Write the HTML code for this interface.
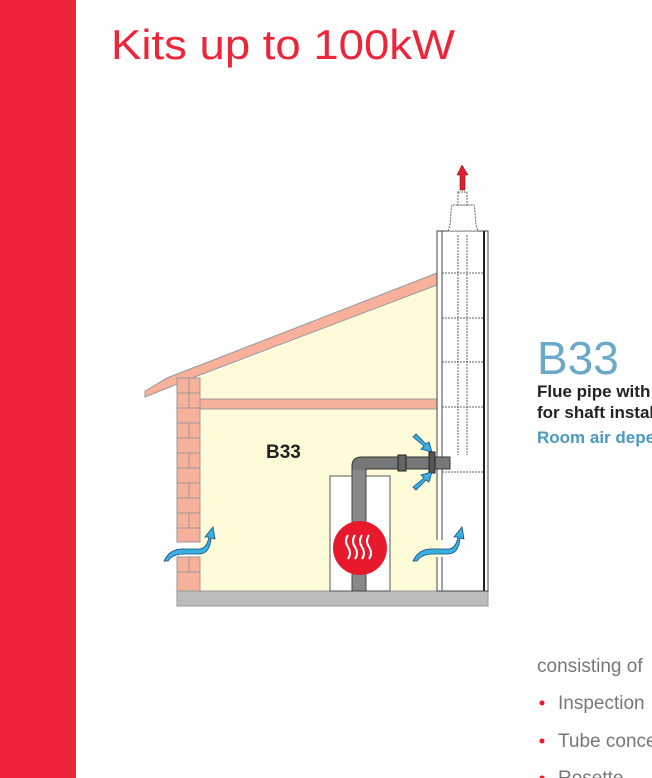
<!DOCTYPE html>
<html><head><meta charset="utf-8"><style>
html,body{margin:0;padding:0;background:#fff;}
svg{display:block;}
text{font-family:"Liberation Sans",sans-serif;}
</style></head><body>
<svg width="652" height="778" viewBox="0 0 652 778" xmlns="http://www.w3.org/2000/svg">
<rect x="0" y="0" width="76" height="778" fill="#ee2439"/>
<text x="111" y="59" font-size="42" fill="#ee2439" textLength="344" lengthAdjust="spacingAndGlyphs">Kits up to 100kW</text>

<!-- house interior -->
<polygon points="200,377 437,285 437,591 200,591" fill="#fefcd8"/>
<!-- roof -->
<polygon points="145,391 167,378 437,273 437,285 200,375 145,397" fill="#f7b09a" stroke="#999" stroke-width="1"/>
<!-- ceiling beam -->
<rect x="200" y="399" width="237" height="10" fill="#f7b09a" stroke="#999" stroke-width="1"/>
<!-- brick wall -->
<g stroke="#999" stroke-width="1" fill="#f7b09a">
<rect x="177" y="378" width="23" height="164"/>
<rect x="177" y="557" width="23" height="34"/>
</g>
<g stroke="#999" stroke-width="1">
<line x1="177" y1="393" x2="200" y2="393"/><line x1="177" y1="408" x2="200" y2="408"/>
<line x1="177" y1="423" x2="200" y2="423"/><line x1="177" y1="438" x2="200" y2="438"/>
<line x1="177" y1="453" x2="200" y2="453"/><line x1="177" y1="468" x2="200" y2="468"/>
<line x1="177" y1="483" x2="200" y2="483"/><line x1="177" y1="498" x2="200" y2="498"/>
<line x1="177" y1="513" x2="200" y2="513"/><line x1="177" y1="528" x2="200" y2="528"/>
<line x1="177" y1="572" x2="200" y2="572"/>
<line x1="189" y1="393" x2="189" y2="408"/><line x1="189" y1="423" x2="189" y2="438"/>
<line x1="189" y1="453" x2="189" y2="468"/><line x1="189" y1="483" x2="189" y2="498"/>
<line x1="189" y1="513" x2="189" y2="528"/><line x1="189" y1="557" x2="189" y2="572"/>
<line x1="189" y1="378" x2="189" y2="393"/>
</g>
<!-- floor -->
<rect x="177" y="591" width="311" height="15" fill="#bbb" stroke="#999"/>
<!-- chimney -->
<rect x="437" y="231" width="51" height="360" fill="#fff" stroke="#444" stroke-width="1"/>
<line x1="442" y1="231" x2="442" y2="540" stroke="#444"/>
<line x1="442" y1="557" x2="442" y2="591" stroke="#444"/>
<rect x="436" y="540" width="5" height="17" fill="#fefcd8"/>
<line x1="484" y1="231" x2="484" y2="591" stroke="#222" stroke-width="2"/>
<g stroke="#666" stroke-dasharray="2,1">
<line x1="442" y1="273" x2="484" y2="273"/><line x1="442" y1="318" x2="484" y2="318"/>
<line x1="442" y1="362" x2="484" y2="362"/><line x1="442" y1="407" x2="484" y2="407"/>
<line x1="442" y1="472" x2="484" y2="472"/>
<line x1="458" y1="235" x2="458" y2="455"/><line x1="467" y1="235" x2="467" y2="455"/>
</g>
<!-- cap -->
<path d="M448,231 C452,222 450,212 452,205 L474,205 C476,212 474,222 478,231 Z" fill="#fff" stroke="#666" stroke-dasharray="2,1"/>
<rect x="458" y="192" width="9" height="13" fill="#fff" stroke="#666" stroke-dasharray="2,1"/>
<polygon points="462,165 457,175 460,175 460,190 465,190 465,175 468,175" fill="#e02030" stroke="#600" stroke-width="0.5"/>
<!-- boiler -->
<rect x="330" y="476" width="60" height="115" fill="#fff" stroke="#555"/>
<rect x="352" y="468" width="14" height="123" fill="#888" stroke="#444"/>
<path d="M352,470 L352,466 Q352,457 362,457 L450,457 L450,469 L366,469 L366,470" fill="#777" stroke="#333"/>
<rect x="398" y="455" width="8" height="16" fill="#666" stroke="#222"/>
<rect x="429" y="452" width="6" height="21" fill="#555" stroke="#222"/>
<circle cx="360" cy="548" r="27" fill="#e8192c"/>
<g stroke="#fff" stroke-width="2" fill="none">
<path d="M348,535 q-4,6 0,12 q4,6 0,12"/><path d="M355,535 q-4,6 0,12 q4,6 0,12"/>
<path d="M362,535 q-4,6 0,12 q4,6 0,12"/><path d="M369,535 q-4,6 0,12 q4,6 0,12"/>
</g>
<text x="266" y="458" font-size="19" font-weight="bold" fill="#222">B33</text>
<!-- blue arrows -->
<g fill="#3ab0e0" stroke="#1a4a80" stroke-width="0.8">
<path d="M164,561 Q170,548 185,549 L200,549 Q207,548 209,537 L205,537 L213,527 L215,539 L211,538 Q210,553 200,554 L185,554 Q172,554 168,561 Z"/>
<path d="M413,561 Q419,548 434,549 L449,549 Q456,548 458,537 L454,537 L462,527 L464,539 L460,538 Q459,553 449,554 L434,554 Q421,554 417,561 Z"/>
<polygon points="413,437 424,446 421,449 432,452 429,442 426,444 416,434"/>
<polygon points="413,487 424,478 421,475 432,472 429,482 426,480 416,490"/>
</g>
<!-- right text -->
<text x="537" y="374" font-size="46" fill="#6aaac8">B33</text>
<text x="537" y="397" font-size="17" font-weight="bold" fill="#222">Flue pipe with</text>
<text x="537" y="418" font-size="17" font-weight="bold" fill="#222">for shaft installation</text>
<text x="537" y="443" font-size="17" font-weight="bold" fill="#4a9ac0">Room air dependent</text>
<text x="537" y="672" font-size="19" fill="#777">consisting of</text>
<circle cx="542" cy="703" r="2.5" fill="#e8192c"/>
<text x="558" y="709" font-size="19" fill="#777">Inspection</text>
<circle cx="542" cy="741" r="2.5" fill="#e8192c"/>
<text x="558" y="747" font-size="19" fill="#777">Tube concentric</text>
<circle cx="542" cy="778" r="2.5" fill="#e8192c"/>
<text x="558" y="784" font-size="19" fill="#777">Rosette</text>
</svg>
</body></html>
